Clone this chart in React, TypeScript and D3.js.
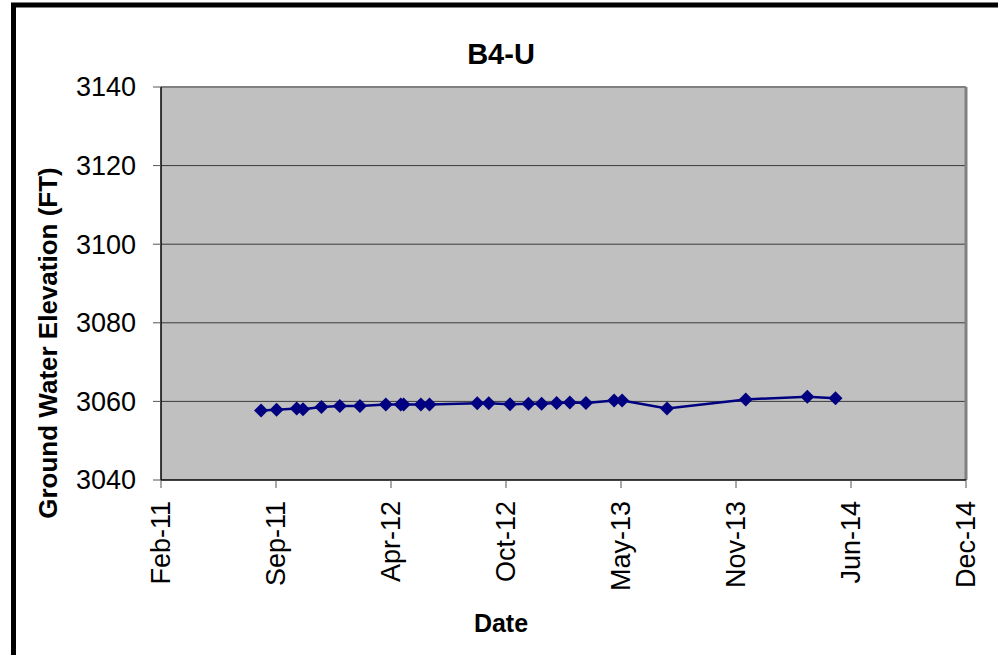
import { useMemo } from 'react';
import * as d3 from 'd3';

const TITLE = 'B4-U';
const Y_TITLE = 'Ground Water Elevation (FT)';
const X_TITLE = 'Date';

const dates = [
  '2011-08-19', '2011-09-15', '2011-10-20', '2011-10-31', '2011-12-02',
  '2012-01-03', '2012-02-07', '2012-03-23', '2012-04-18', '2012-04-23',
  '2012-05-23', '2012-06-07', '2012-08-29', '2012-09-18', '2012-10-25',
  '2012-11-26', '2012-12-19', '2013-01-14', '2013-02-06', '2013-03-06',
  '2013-04-24', '2013-05-08', '2013-07-25', '2013-12-09', '2014-03-26',
  '2014-05-14',
];
const elevations = [
  3057.7, 3057.9, 3058.2, 3058.0, 3058.6,
  3058.8, 3058.8, 3059.2, 3059.2, 3059.2,
  3059.2, 3059.2, 3059.5, 3059.5, 3059.3,
  3059.4, 3059.4, 3059.6, 3059.7, 3059.6,
  3060.2, 3060.2, 3058.2, 3060.5, 3061.2,
  3060.8,
];

// axis settings (Excel-like date axis: min 26 Feb 2011, major unit 200 days)
const X_MIN = '2011-02-26';
const X_STEP_DAYS = 200;
const X_TICK_COUNT = 8;
const yTicks = [3040, 3060, 3080, 3100, 3120, 3140];

const W = 998;
const H = 655;
const margin = { top: 87, right: 32, bottom: 175, left: 161 };

export default function App() {
  const parse = d3.utcParse('%Y-%m-%d');
  const fmt = d3.utcFormat('%b-%y');

  const data = dates.map((d, i) => ({ date: parse(d) as Date, value: elevations[i] }));

  const xStart = parse(X_MIN) as Date;
  const xTicks = d3.range(X_TICK_COUNT).map((i) => d3.utcDay.offset(xStart, i * X_STEP_DAYS));

  const boundsWidth = W - margin.left - margin.right;
  const boundsHeight = H - margin.top - margin.bottom;

  const xScale = useMemo(
    () => d3.scaleUtc().domain([xTicks[0], xTicks[xTicks.length - 1]]).range([0, boundsWidth]),
    [boundsWidth]
  );
  const yScale = d3.scaleLinear().domain([3040, 3140]).range([boundsHeight, 0]);

  const line = d3
    .line<{ date: Date; value: number }>()
    .x((d) => xScale(d.date))
    .y((d) => yScale(d.value));

  const diamond = 'M0,-7L7,0L0,7L-7,0Z';
  const font = 'Arial, "Liberation Sans", Helvetica, sans-serif';

  return (
    <svg
      width={W}
      height={H}
      style={{ position: 'absolute', left: 0, top: 0, background: '#fff' }}
      fontFamily={font}
    >
      <rect x={13.5} y={5} width={W + 20} height={H + 20} fill="#fff" stroke="#000" strokeWidth={5} />

      <text x={501} y={64} textAnchor="middle" fontSize={29} fontWeight="bold">
        {TITLE}
      </text>

      <g transform={`translate(${margin.left},${margin.top})`}>
        <rect x={0} y={0} width={boundsWidth} height={boundsHeight} fill="#c0c0c0" />

        {/* gridlines */}
        {yTicks.slice(1, -1).map((t) => (
          <line key={t} x1={0} x2={boundsWidth} y1={yScale(t)} y2={yScale(t)} stroke="#3a3a3a" strokeWidth={1} />
        ))}

        {/* frame */}
        <line x1={0} x2={boundsWidth} y1={0} y2={0} stroke="#808080" strokeWidth={2} />
        <line x1={boundsWidth} x2={boundsWidth} y1={0} y2={boundsHeight} stroke="#808080" strokeWidth={3} />
        <line x1={0} x2={0} y1={0} y2={boundsHeight} stroke="#000" strokeWidth={1.5} />
        <line x1={0} x2={boundsWidth} y1={boundsHeight} y2={boundsHeight} stroke="#000" strokeWidth={1.5} />

        {/* y axis */}
        {yTicks.map((t) => (
          <g key={t} transform={`translate(0,${yScale(t)})`}>
            <line x1={-8} x2={0} stroke="#555" strokeWidth={1} />
            <text x={-25} dy="0.35em" textAnchor="end" fontSize={27}>
              {t}
            </text>
          </g>
        ))}

        {/* x axis */}
        {xTicks.map((t, i) => (
          <g key={i} transform={`translate(${xScale(t)},${boundsHeight})`}>
            <line y1={0} y2={8} stroke="#555" strokeWidth={1} />
            <text transform="translate(0,21) rotate(-90)" dy="0.35em" textAnchor="end" fontSize={27}>
              {fmt(t)}
            </text>
          </g>
        ))}

        <path d={line(data) || ''} fill="none" stroke="#000080" strokeWidth={2.5} />
        {data.map((d, i) => (
          <path key={i} d={diamond} transform={`translate(${xScale(d.date)},${yScale(d.value)})`} fill="#000080" />
        ))}
      </g>

      <text
        transform={`translate(57,343) rotate(-90)`}
        textAnchor="middle"
        fontSize={26}
        fontWeight="bold"
      >
        {Y_TITLE}
      </text>
      <text x={501} y={632} textAnchor="middle" fontSize={25} fontWeight="bold">
        {X_TITLE}
      </text>
    </svg>
  );
}
